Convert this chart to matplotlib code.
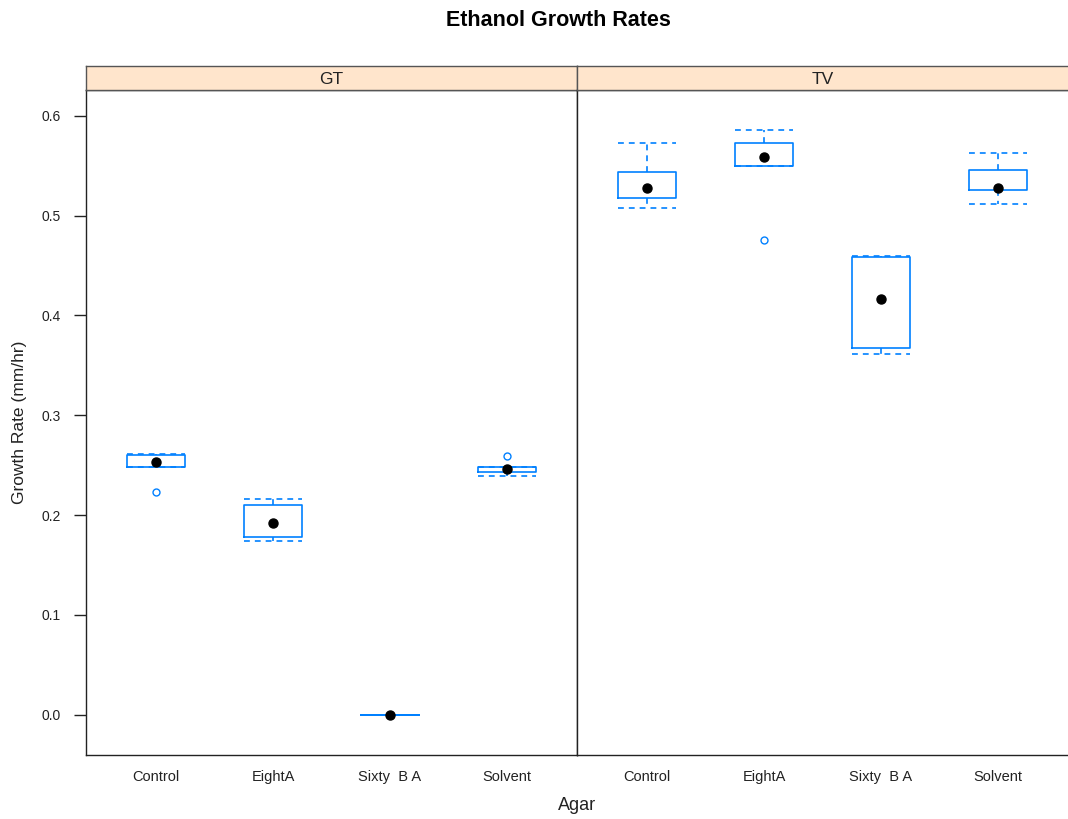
import numpy as np
import matplotlib.pyplot as plt

plt.rcParams['font.family'] = ['Liberation Sans', 'DejaVu Sans']

agars = ['Control', 'EightA', 'Sixty  B A', 'Solvent']
tick_labels = ['Control', 'EightA', 'Sixty  B A', 'Solvent']
panels = ['GT', 'TV']

# five-number summaries per panel, in agar order
whislo = {'GT': [0.248, 0.174, 0.0, 0.2394],
          'TV': [0.5079, 0.550, 0.3616, 0.512]}
q1 = {'GT': [0.248, 0.1776, 0.0, 0.243],
      'TV': [0.5179, 0.550, 0.3676, 0.5259]}
med = {'GT': [0.2527, 0.1923, 0.0, 0.246],
       'TV': [0.5276, 0.5586, 0.4164, 0.5276]}
q3 = {'GT': [0.260, 0.2097, 0.0, 0.248],
      'TV': [0.5439, 0.5733, 0.459, 0.546]}
whishi = {'GT': [0.2614, 0.216, 0.0, 0.248],
          'TV': [0.5733, 0.586, 0.460, 0.5633]}
fliers = {'GT': [[0.2234], [], [], [0.2588]],
          'TV': [[], [0.4755], [], []]}

blue = '#0080ff'
dark = '#222222'

fig = plt.figure(figsize=(10.68, 8.19), dpi=100)
W, H = 1068.0, 819.0
ax_left = 86 / W
ax_w = 491 / W
ax_bot = (H - 755) / H
ax_h = (755 - 90) / H
strip_h = 24 / H

for i, p in enumerate(panels):
    ax = fig.add_axes([ax_left + i * ax_w, ax_bot, ax_w, ax_h])
    stats = []
    for j in range(len(agars)):
        stats.append(dict(med=med[p][j], q1=q1[p][j], q3=q3[p][j],
                          whislo=whislo[p][j], whishi=whishi[p][j],
                          fliers=fliers[p][j]))
    pos = np.arange(1, len(agars) + 1)
    ax.bxp(stats, positions=pos, widths=0.5, capwidths=0.5,
           boxprops=dict(color=blue, lw=1.2),
           whiskerprops=dict(color=blue, lw=1.2, ls=(0, (3.5, 3))),
           capprops=dict(color=blue, lw=1.2, ls=(0, (3.5, 3))),
           medianprops=dict(visible=False),
           flierprops=dict(marker='o', markersize=5, markerfacecolor='none',
                           markeredgecolor=blue, markeredgewidth=1.0))
    ax.plot(pos, med[p], 'o', color='black', markersize=6.5, zorder=5)

    ax.set_xlim(0.4, 4.6)
    ax.set_ylim(-0.0405, 0.626)
    ax.set_xticks(pos)
    ax.set_xticklabels(tick_labels, fontsize=10.5, color=dark)
    ax.tick_params(axis='x', length=0, pad=11)
    if i == 0:
        ax.set_yticks([0.0, 0.1, 0.2, 0.3, 0.4, 0.5, 0.6])
        ax.set_yticklabels(['0.0', '0.1', '0.2', '0.3', '0.4', '0.5', '0.6'],
                           fontsize=10, color=dark)
        ax.tick_params(axis='y', length=9, width=1, color=dark, pad=9)
    else:
        ax.set_yticks([])
        ax.spines['right'].set_visible(False)
    for s in ax.spines.values():
        s.set_color(dark)
        s.set_linewidth(1.0)

    # strip on top of each panel
    sax = fig.add_axes([ax_left + i * ax_w, ax_bot + ax_h, ax_w, strip_h])
    sax.set_facecolor('#ffe5cc')
    sax.set_xticks([])
    sax.set_yticks([])
    for s in sax.spines.values():
        s.set_color('#555555')
        s.set_linewidth(1.0)
    if i == 1:
        sax.spines['right'].set_visible(False)
    sax.text(0.5, 0.45, p, ha='center', va='center', fontsize=12.5,
             color=dark, transform=sax.transAxes)

fig.text(558 / W, 1 - 21 / H, 'Ethanol Growth Rates', ha='center',
         va='center', fontsize=15.5, fontweight='bold', color='black')
fig.text(577 / W, 1 - 806 / H, 'Agar', ha='center', va='center',
         fontsize=13, color=dark)
fig.text(20 / W, 1 - 422 / H, 'Growth Rate (mm/hr)', ha='center',
         va='center', rotation=90, fontsize=12.5, color=dark)

fig.savefig('out.png', dpi=100)
